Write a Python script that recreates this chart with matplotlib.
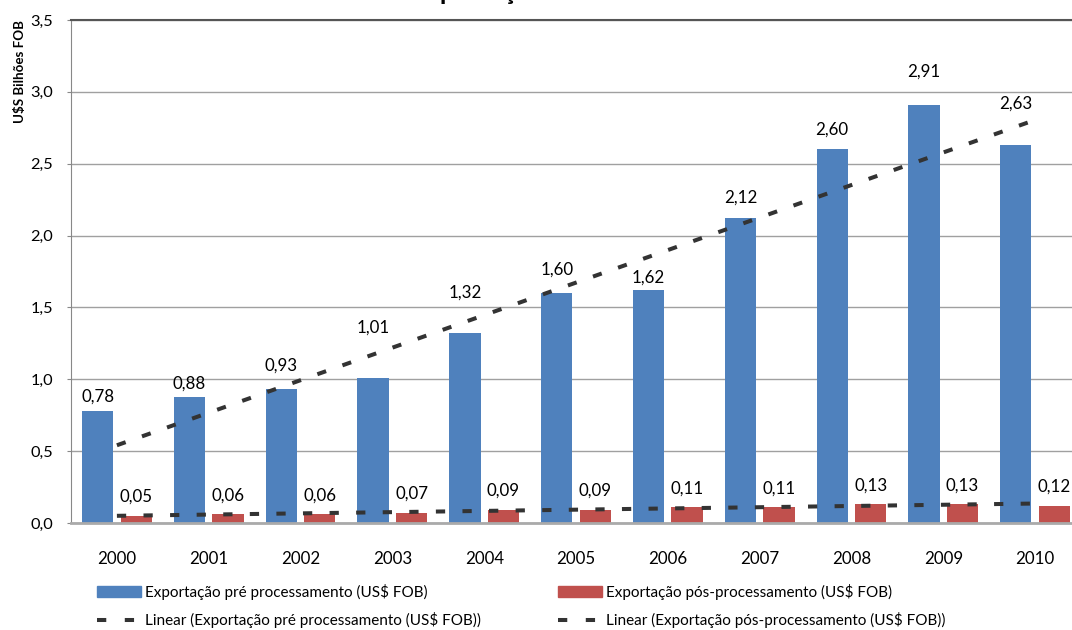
import matplotlib.pyplot as plt
import numpy as np
from matplotlib.patches import Patch
from matplotlib.lines import Line2D

plt.rcParams['font.family'] = ['Lato', 'DejaVu Sans']

years = ['2000', '2001', '2002', '2003', '2004', '2005',
         '2006', '2007', '2008', '2009', '2010']
pre_proc = [0.78, 0.88, 0.93, 1.01, 1.32, 1.60, 1.62, 2.12, 2.60, 2.91, 2.63]
pos_proc = [0.05, 0.06, 0.06, 0.07, 0.09, 0.09, 0.11, 0.11, 0.13, 0.13, 0.12]

lbl_pre = 'Exportação pré processamento (US$ FOB)'
lbl_pos = 'Exportação pós-processamento (US$ FOB)'

# label offsets above the bars (pixels), labels were moved by hand in the original
pre_lbl_dy = [14, 13, 24, 50, 41, 23, 13, 21, 20, 33, 41]
pos_lbl_dy = 19

blue = '#4F81BD'
red = '#C0504D'
trend_col = '#333333'

W, H = 1072, 630
fig = plt.figure(figsize=(W / 100, H / 100), dpi=100)
ax = fig.add_axes([71 / W, 1 - 523 / H, (1081 - 71) / W, (523 - 20) / H])

x = np.arange(len(years))
bw = 0.34
off = 0.21
ax.bar(x - off, pre_proc, bw, color=blue, zorder=2)
ax.bar(x + off, pos_proc, bw, color=red, zorder=2)

# linear trendlines like excel
dash = (0, (2.3, 4.3))
for vals in (pre_proc, pos_proc):
    k, d = np.polyfit(x, vals, 1)
    ax.plot(x, k * x + d, color=trend_col, lw=2.9, linestyle=dash,
            dash_capstyle='butt', zorder=3)

for i in range(len(years)):
    ax.annotate('{:.2f}'.format(pre_proc[i]).replace('.', ','),
                (x[i] - off, pre_proc[i]), xytext=(0, pre_lbl_dy[i]),
                textcoords='offset pixels', ha='center', va='center',
                fontsize=12.2, zorder=4)
    ax.annotate('{:.2f}'.format(pos_proc[i]).replace('.', ','),
                (x[i] + off, pos_proc[i]), xytext=(0, pos_lbl_dy),
                textcoords='offset pixels', ha='center', va='center',
                fontsize=12.2, zorder=4)

ax.set_xlim(-0.5, len(years) - 0.5)
ax.set_ylim(0, 3.5)
ax.set_yticks(np.arange(0, 3.51, 0.5))
ax.set_yticklabels(['{:.1f}'.format(v).replace('.', ',')
                    for v in np.arange(0, 3.51, 0.5)])
ax.set_xticks(x)
ax.set_xticklabels(years)
ax.tick_params(axis='x', length=0, pad=20, labelsize=12.2)
ax.tick_params(axis='y', length=3, pad=10, labelsize=11.8, color='#888888')

ax.yaxis.grid(True, color='#a0a0a0', lw=1, zorder=0)
ax.set_axisbelow(True)
ax.spines['top'].set_color('#555555')
ax.spines['top'].set_linewidth(1.5)
ax.spines['left'].set_color('#888888')
ax.spines['bottom'].set_color('#aaaaaa')
ax.spines['bottom'].set_linewidth(2)
ax.spines['right'].set_visible(False)

ax.set_ylabel('U$S Bilhões FOB', fontsize=9.6, fontweight='bold', loc='top',
              labelpad=3)

# title is mostly cut off at the top of the picture
fig.text(412 / W, 1.0, 'Exportação', fontsize=19, fontweight='bold',
         ha='left', va='baseline')

leg_dash = (0, (2.3, 4.6))
handles = [Patch(color=blue),
           Line2D([], [], color=trend_col, lw=2.9, linestyle=leg_dash,
                  dash_capstyle='butt'),
           Patch(color=red),
           Line2D([], [], color=trend_col, lw=2.9, linestyle=leg_dash,
                  dash_capstyle='butt')]
labels = [lbl_pre, 'Linear (' + lbl_pre + ')',
          lbl_pos, 'Linear (' + lbl_pos + ')']
fig.legend(handles, labels, ncol=2, loc='upper left',
           bbox_to_anchor=(97 / W, 1 - 584 / H), frameon=False,
           fontsize=11, borderpad=0, borderaxespad=0,
           handlelength=2.9, handleheight=0.72, handletextpad=0.26,
           labelspacing=0.78, columnspacing=5.0)

plt.savefig('out.png', dpi=100)
